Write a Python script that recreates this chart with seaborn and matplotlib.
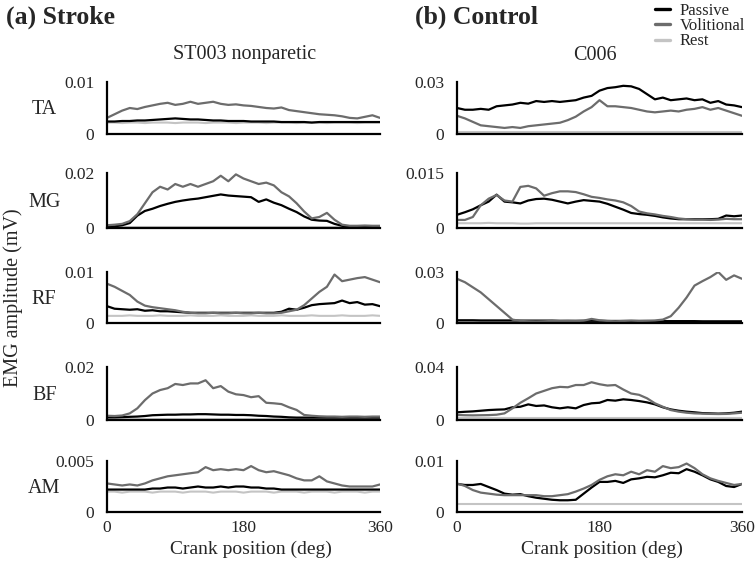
import matplotlib
matplotlib.use("Agg")
import matplotlib.pyplot as plt
import seaborn as sns
from matplotlib.lines import Line2D

# crank position grid (deg)
deg = [0, 10, 20, 30, 40, 50, 60, 70, 80, 90, 100, 110, 120, 130, 140, 150, 160, 170, 180,
       190, 200, 210, 220, 230, 240, 250, 260, 270, 280, 290, 300, 310, 320, 330, 340, 350, 360]

muscles = ["TA", "MG", "RF", "BF", "AM"]
stroke_ymax = [0.01, 0.02, 0.01, 0.02, 0.005]
stroke_ylabels = ["0.01", "0.02", "0.01", "0.02", "0.005"]
control_ymax = [0.03, 0.015, 0.03, 0.04, 0.01]
control_ylabels = ["0.03", "0.015", "0.03", "0.04", "0.01"]

# ---- (a) Stroke, ST003 nonparetic ----
st_ta_pas = [0.0024, 0.0024, 0.0025, 0.0025, 0.0026, 0.0026, 0.0027, 0.0028, 0.0029, 0.0030, 0.0029, 0.0028, 0.0028,
             0.0027, 0.0026, 0.0026, 0.0025, 0.0025, 0.0025, 0.0024, 0.0024, 0.0024, 0.0024, 0.0023, 0.0023, 0.0023,
             0.0023, 0.0022, 0.0023, 0.0023, 0.0023, 0.0023, 0.0023, 0.0023, 0.0023, 0.0023, 0.0023]
st_ta_vol = [0.0031, 0.0038, 0.0045, 0.0050, 0.0048, 0.0052, 0.0055, 0.0058, 0.0060, 0.0056, 0.0058, 0.0062, 0.0058,
             0.0060, 0.0062, 0.0058, 0.0056, 0.0057, 0.0055, 0.0054, 0.0052, 0.0050, 0.0049, 0.0051, 0.0046, 0.0044,
             0.0042, 0.0040, 0.0038, 0.0037, 0.0036, 0.0034, 0.0031, 0.0030, 0.0033, 0.0036, 0.0031]
st_ta_rest = [0.0022, 0.0022, 0.0021, 0.0022, 0.0022, 0.0021, 0.0022, 0.0022, 0.0022, 0.0021, 0.0022, 0.0022, 0.0022,
              0.0021, 0.0022, 0.0022, 0.0022, 0.0021, 0.0022, 0.0022, 0.0022, 0.0021, 0.0022, 0.0022, 0.0022, 0.0021,
              0.0022, 0.0022, 0.0022, 0.0021, 0.0022, 0.0022, 0.0022, 0.0021, 0.0022, 0.0022, 0.0022]

st_mg_pas = [0.0005, 0.0006, 0.0010, 0.0018, 0.0045, 0.0062, 0.0070, 0.0080, 0.0088, 0.0095, 0.0100, 0.0104, 0.0107,
             0.0112, 0.0117, 0.0122, 0.0118, 0.0116, 0.0114, 0.0112, 0.0095, 0.0104, 0.0092, 0.0083, 0.0070, 0.0058,
             0.0042, 0.0030, 0.0027, 0.0026, 0.0015, 0.0008, 0.0005, 0.0005, 0.0005, 0.0005, 0.0005]
st_mg_vol = [0.0010, 0.0012, 0.0015, 0.0025, 0.0050, 0.0090, 0.0130, 0.0150, 0.0140, 0.0160, 0.0150, 0.0160, 0.0150,
             0.0160, 0.0170, 0.0190, 0.0170, 0.0195, 0.0180, 0.0170, 0.0160, 0.0165, 0.0155, 0.0130, 0.0115, 0.0090,
             0.0060, 0.0035, 0.0040, 0.0055, 0.0030, 0.0012, 0.0008, 0.0008, 0.0009, 0.0008, 0.0008]
st_mg_rest = [0.0003, 0.0003, 0.0003, 0.0003, 0.0003, 0.0003, 0.0003, 0.0003, 0.0003, 0.0003, 0.0003, 0.0003, 0.0003,
              0.0003, 0.0003, 0.0003, 0.0003, 0.0003, 0.0003, 0.0003, 0.0003, 0.0003, 0.0003, 0.0003, 0.0003, 0.0003,
              0.0003, 0.0003, 0.0003, 0.0003, 0.0003, 0.0003, 0.0003, 0.0003, 0.0003, 0.0003, 0.0003]

st_rf_pas = [0.0033, 0.0028, 0.0027, 0.0026, 0.0027, 0.0024, 0.0025, 0.0023, 0.0023, 0.0022, 0.0021, 0.0020, 0.0020,
             0.0020, 0.0020, 0.0020, 0.0020, 0.0020, 0.0020, 0.0020, 0.0020, 0.0020, 0.0020, 0.0022, 0.0028, 0.0026,
             0.0030, 0.0035, 0.0037, 0.0038, 0.0039, 0.0044, 0.0039, 0.0041, 0.0036, 0.0037, 0.0033]
st_rf_vol = [0.0077, 0.0071, 0.0063, 0.0055, 0.0042, 0.0034, 0.0031, 0.0029, 0.0027, 0.0025, 0.0022, 0.0020, 0.0019,
             0.0019, 0.0020, 0.0019, 0.0019, 0.0020, 0.0019, 0.0019, 0.0020, 0.0019, 0.0019, 0.0020, 0.0023, 0.0026,
             0.0035, 0.0048, 0.0061, 0.0071, 0.0095, 0.0082, 0.0085, 0.0088, 0.0090, 0.0085, 0.0080]
st_rf_rest = [0.0014, 0.0014, 0.0014, 0.0015, 0.0014, 0.0014, 0.0014, 0.0015, 0.0014, 0.0014, 0.0014, 0.0015, 0.0014,
              0.0014, 0.0014, 0.0015, 0.0014, 0.0014, 0.0014, 0.0015, 0.0014, 0.0014, 0.0014, 0.0015, 0.0014, 0.0014,
              0.0014, 0.0015, 0.0014, 0.0014, 0.0014, 0.0015, 0.0014, 0.0014, 0.0014, 0.0015, 0.0014]

st_bf_pas = [0.0010, 0.0010, 0.0011, 0.0012, 0.0013, 0.0015, 0.0018, 0.0019, 0.0020, 0.0020, 0.0021, 0.0021, 0.0022,
             0.0022, 0.0021, 0.0020, 0.0020, 0.0019, 0.0019, 0.0018, 0.0016, 0.0015, 0.0013, 0.0012, 0.0010, 0.0009,
             0.0009, 0.0009, 0.0009, 0.0009, 0.0009, 0.0009, 0.0009, 0.0009, 0.0009, 0.0009, 0.0009]
st_bf_vol = [0.0016, 0.0015, 0.0017, 0.0025, 0.0044, 0.0075, 0.0100, 0.0113, 0.0120, 0.0136, 0.0132, 0.0138, 0.0138,
             0.0150, 0.0120, 0.0128, 0.0107, 0.0097, 0.0094, 0.0086, 0.0090, 0.0065, 0.0063, 0.0060, 0.0048, 0.0038,
             0.0019, 0.0016, 0.0014, 0.0013, 0.0013, 0.0012, 0.0013, 0.0013, 0.0012, 0.0013, 0.0013]
st_bf_rest = [0.0005, 0.0005, 0.0005, 0.0005, 0.0005, 0.0005, 0.0005, 0.0005, 0.0005, 0.0005, 0.0005, 0.0005, 0.0005,
              0.0005, 0.0005, 0.0005, 0.0005, 0.0005, 0.0005, 0.0005, 0.0005, 0.0005, 0.0005, 0.0005, 0.0005, 0.0005,
              0.0005, 0.0005, 0.0005, 0.0005, 0.0005, 0.0005, 0.0005, 0.0005, 0.0005, 0.0005, 0.0005]

st_am_pas = [0.0022, 0.0022, 0.0022, 0.0022, 0.0022, 0.0022, 0.0023, 0.0023, 0.0024, 0.0024, 0.0023, 0.0024, 0.0025,
             0.0024, 0.0024, 0.0025, 0.0024, 0.0025, 0.0025, 0.0024, 0.0024, 0.0023, 0.0023, 0.0022, 0.0022, 0.0022,
             0.0022, 0.0022, 0.0022, 0.0022, 0.0022, 0.0022, 0.0022, 0.0022, 0.0022, 0.0022, 0.0022]
st_am_vol = [0.0028, 0.0027, 0.0026, 0.0027, 0.0026, 0.0028, 0.0031, 0.0033, 0.0035, 0.0036, 0.0037, 0.0038, 0.0039,
             0.0044, 0.0041, 0.0042, 0.0041, 0.0042, 0.0041, 0.0045, 0.0041, 0.0039, 0.0040, 0.0038, 0.0036, 0.0033,
             0.0031, 0.0031, 0.0035, 0.0030, 0.0028, 0.0026, 0.0025, 0.0025, 0.0025, 0.0025, 0.0027]
st_am_rest = [0.0020, 0.0020, 0.0019, 0.0020, 0.0020, 0.0020, 0.0019, 0.0020, 0.0020, 0.0020, 0.0019, 0.0020, 0.0020,
              0.0020, 0.0019, 0.0020, 0.0020, 0.0020, 0.0019, 0.0020, 0.0020, 0.0020, 0.0019, 0.0020, 0.0020, 0.0020,
              0.0019, 0.0020, 0.0020, 0.0020, 0.0019, 0.0020, 0.0020, 0.0020, 0.0019, 0.0020, 0.0020]

# ---- (b) Control, C006 ----
c_ta_pas = [0.0150, 0.0140, 0.0140, 0.0145, 0.0140, 0.0160, 0.0165, 0.0170, 0.0180, 0.0175, 0.0190, 0.0185, 0.0190,
            0.0185, 0.0190, 0.0195, 0.0210, 0.0220, 0.0250, 0.0265, 0.0270, 0.0278, 0.0275, 0.0260, 0.0230, 0.0200,
            0.0210, 0.0195, 0.0200, 0.0205, 0.0195, 0.0200, 0.0180, 0.0190, 0.0170, 0.0165, 0.0155]
c_ta_vol = [0.0105, 0.0090, 0.0070, 0.0050, 0.0045, 0.0040, 0.0035, 0.0040, 0.0035, 0.0045, 0.0050, 0.0055, 0.0060,
            0.0065, 0.0080, 0.0100, 0.0130, 0.0155, 0.0195, 0.0160, 0.0160, 0.0155, 0.0150, 0.0140, 0.0130, 0.0125,
            0.0130, 0.0135, 0.0130, 0.0140, 0.0145, 0.0155, 0.0140, 0.0150, 0.0135, 0.0120, 0.0105]
c_ta_rest = [0.0012, 0.0012, 0.0012, 0.0012, 0.0012, 0.0012, 0.0012, 0.0012, 0.0012, 0.0012, 0.0012, 0.0012, 0.0012,
             0.0012, 0.0012, 0.0012, 0.0012, 0.0012, 0.0012, 0.0012, 0.0012, 0.0012, 0.0012, 0.0012, 0.0012, 0.0012,
             0.0012, 0.0012, 0.0012, 0.0012, 0.0012, 0.0012, 0.0012, 0.0012, 0.0012, 0.0012, 0.0012]

c_mg_pas = [0.0036, 0.0043, 0.0051, 0.0062, 0.0072, 0.0091, 0.0072, 0.0070, 0.0067, 0.0075, 0.0079, 0.0080, 0.0077,
            0.0072, 0.0067, 0.0072, 0.0076, 0.0074, 0.0072, 0.0066, 0.0058, 0.0050, 0.0041, 0.0038, 0.0036, 0.0033,
            0.0029, 0.0026, 0.0024, 0.0024, 0.0024, 0.0024, 0.0024, 0.0025, 0.0034, 0.0032, 0.0034]
c_mg_vol = [0.0022, 0.0022, 0.0030, 0.0062, 0.0080, 0.0090, 0.0075, 0.0072, 0.0112, 0.0115, 0.0108, 0.0088, 0.0095,
            0.0100, 0.0100, 0.0098, 0.0092, 0.0085, 0.0082, 0.0078, 0.0075, 0.0070, 0.0060, 0.0045, 0.0040, 0.0037,
            0.0033, 0.0030, 0.0026, 0.0024, 0.0023, 0.0023, 0.0022, 0.0023, 0.0025, 0.0024, 0.0024]
c_mg_rest = [0.0013, 0.0013, 0.0013, 0.0013, 0.0014, 0.0013, 0.0013, 0.0013, 0.0012, 0.0012, 0.0013, 0.0013, 0.0013,
             0.0013, 0.0013, 0.0013, 0.0013, 0.0013, 0.0013, 0.0013, 0.0013, 0.0013, 0.0013, 0.0013, 0.0013, 0.0013,
             0.0013, 0.0013, 0.0013, 0.0013, 0.0013, 0.0013, 0.0013, 0.0013, 0.0013, 0.0013, 0.0013]

c_rf_pas = [0.0016, 0.0016, 0.0016, 0.0015, 0.0015, 0.0015, 0.0015, 0.0015, 0.0014, 0.0014, 0.0014, 0.0014, 0.0014,
            0.0013, 0.0013, 0.0013, 0.0013, 0.0013, 0.0013, 0.0012, 0.0012, 0.0012, 0.0012, 0.0012, 0.0012, 0.0011,
            0.0011, 0.0011, 0.0011, 0.0011, 0.0011, 0.0010, 0.0010, 0.0010, 0.0010, 0.0010, 0.0010]
c_rf_vol = [0.0260, 0.0240, 0.0210, 0.0180, 0.0140, 0.0100, 0.0060, 0.0020, 0.0012, 0.0010, 0.0009, 0.0010, 0.0012,
            0.0011, 0.0012, 0.0011, 0.0014, 0.0024, 0.0016, 0.0012, 0.0010, 0.0012, 0.0014, 0.0012, 0.0013, 0.0015,
            0.0020, 0.0040, 0.0090, 0.0150, 0.0220, 0.0246, 0.0270, 0.0300, 0.0254, 0.0280, 0.0260]
c_rf_rest = [0.0005, 0.0005, 0.0005, 0.0005, 0.0005, 0.0005, 0.0005, 0.0005, 0.0005, 0.0005, 0.0005, 0.0005, 0.0005,
             0.0005, 0.0005, 0.0005, 0.0005, 0.0005, 0.0005, 0.0005, 0.0005, 0.0005, 0.0005, 0.0005, 0.0005, 0.0005,
             0.0005, 0.0005, 0.0005, 0.0005, 0.0005, 0.0005, 0.0005, 0.0005, 0.0005, 0.0005, 0.0005]

c_bf_pas = [0.0058, 0.0062, 0.0065, 0.0070, 0.0075, 0.0078, 0.0080, 0.0096, 0.0100, 0.0118, 0.0106, 0.0110, 0.0096,
            0.0088, 0.0096, 0.0088, 0.0113, 0.0126, 0.0130, 0.0151, 0.0146, 0.0156, 0.0151, 0.0143, 0.0133, 0.0118,
            0.0096, 0.0080, 0.0070, 0.0063, 0.0058, 0.0052, 0.0050, 0.0048, 0.0050, 0.0055, 0.0063]
c_bf_vol = [0.0038, 0.0036, 0.0035, 0.0036, 0.0037, 0.0040, 0.0050, 0.0088, 0.0130, 0.0164, 0.0200, 0.0220, 0.0240,
            0.0250, 0.0247, 0.0264, 0.0264, 0.0285, 0.0270, 0.0260, 0.0264, 0.0230, 0.0200, 0.0190, 0.0164, 0.0126,
            0.0100, 0.0075, 0.0063, 0.0055, 0.0050, 0.0048, 0.0046, 0.0045, 0.0046, 0.0050, 0.0055]
c_bf_rest = [0.0015, 0.0015, 0.0015, 0.0015, 0.0015, 0.0015, 0.0015, 0.0015, 0.0015, 0.0015, 0.0015, 0.0015, 0.0015,
             0.0015, 0.0015, 0.0015, 0.0015, 0.0015, 0.0015, 0.0015, 0.0015, 0.0015, 0.0015, 0.0015, 0.0015, 0.0015,
             0.0015, 0.0015, 0.0015, 0.0015, 0.0015, 0.0015, 0.0015, 0.0015, 0.0015, 0.0015, 0.0015]

c_am_pas = [0.0055, 0.0053, 0.0053, 0.0055, 0.0049, 0.0043, 0.0036, 0.0034, 0.0035, 0.0031, 0.0028, 0.0026, 0.0024,
            0.0023, 0.0023, 0.0024, 0.0036, 0.0048, 0.0059, 0.0059, 0.0061, 0.0057, 0.0064, 0.0066, 0.0069, 0.0068,
            0.0072, 0.0077, 0.0076, 0.0084, 0.0079, 0.0072, 0.0064, 0.0059, 0.0051, 0.0049, 0.0055]
c_am_vol = [0.0056, 0.0051, 0.0043, 0.0038, 0.0036, 0.0034, 0.0033, 0.0033, 0.0033, 0.0033, 0.0033, 0.0031, 0.0031,
            0.0033, 0.0035, 0.0040, 0.0046, 0.0053, 0.0063, 0.0070, 0.0074, 0.0072, 0.0079, 0.0074, 0.0082, 0.0079,
            0.0090, 0.0086, 0.0088, 0.0095, 0.0086, 0.0074, 0.0066, 0.0061, 0.0057, 0.0053, 0.0055]
c_am_rest = [0.0016, 0.0016, 0.0016, 0.0016, 0.0016, 0.0016, 0.0016, 0.0016, 0.0016, 0.0016, 0.0016, 0.0016, 0.0016,
             0.0016, 0.0016, 0.0016, 0.0016, 0.0016, 0.0016, 0.0016, 0.0016, 0.0016, 0.0016, 0.0016, 0.0016, 0.0016,
             0.0016, 0.0016, 0.0016, 0.0016, 0.0016, 0.0016, 0.0016, 0.0016, 0.0016, 0.0016, 0.0016]

stroke = [(st_ta_pas, st_ta_vol, st_ta_rest), (st_mg_pas, st_mg_vol, st_mg_rest), (st_rf_pas, st_rf_vol, st_rf_rest),
          (st_bf_pas, st_bf_vol, st_bf_rest), (st_am_pas, st_am_vol, st_am_rest)]
control = [(c_ta_pas, c_ta_vol, c_ta_rest), (c_mg_pas, c_mg_vol, c_mg_rest), (c_rf_pas, c_rf_vol, c_rf_rest),
           (c_bf_pas, c_bf_vol, c_bf_rest), (c_am_pas, c_am_vol, c_am_rest)]

for group in stroke + control:
    for s in group:
        assert len(s) == len(deg), len(s)

sns.set_style("white")
plt.rcParams['font.family'] = ['Liberation Serif', 'DejaVu Serif']

col_pas, col_vol, col_rest = "#000000", "#6c6c6c", "#c4c4c4"

fig = plt.figure(figsize=(7.55, 5.63), dpi=100)
W, H = 755.0, 563.0
rows_px = [(82, 134), (173, 228), (272, 323), (367, 420), (461, 512)]
cols_px = [(107, 380), (457, 742)]


def draw_panel(ax, traces, ymax, ylab, show_x):
    pas, vol, rest = traces
    sns.lineplot(x=deg, y=rest, ax=ax, color=col_rest, lw=1.5)
    sns.lineplot(x=deg, y=pas, ax=ax, color=col_pas, lw=1.6)
    sns.lineplot(x=deg, y=vol, ax=ax, color=col_vol, lw=1.6)
    ax.set_xlim(0, 360)
    ax.set_ylim(0, ymax)
    ax.set_yticks([0, ymax])
    ax.set_yticklabels(["0", ylab])
    ax.set_xticks([0, 180, 360])
    if show_x:
        ax.set_xticklabels(["0", "180", "360"])
    else:
        ax.set_xticklabels([])
    ax.tick_params(length=0, labelsize=12.5)
    ax.tick_params(axis="y", pad=9)
    ax.tick_params(axis="x", pad=6)
    ax.set_xlabel("")
    ax.set_ylabel("")
    for side in ["top", "right"]:
        ax.spines[side].set_visible(False)
    for side in ["left", "bottom"]:
        ax.spines[side].set_color("black")
        ax.spines[side].set_linewidth(1.6)
    ax.patch.set_alpha(0)


for ci, (data, ymaxes, ylabs) in enumerate([(stroke, stroke_ymax, stroke_ylabels),
                                             (control, control_ymax, control_ylabels)]):
    x0, x1 = cols_px[ci]
    for ri, (t, b) in enumerate(rows_px):
        ax = fig.add_axes([x0 / W, 1 - b / H, (x1 - x0) / W, (b - t) / H])
        draw_panel(ax, data[ri], ymaxes[ri], ylabs[ri], ri == 4)
        if ci == 0:
            ax.text(-0.23, 0.47, muscles[ri], transform=ax.transAxes, fontsize=14.5,
                    ha="center", va="center")

fig.text(6 / W, 1 - 17 / H, "(a) Stroke", fontsize=18.5, fontweight="bold", ha="left", va="center")
fig.text(415 / W, 1 - 17 / H, "(b) Control", fontsize=18.5, fontweight="bold", ha="left", va="center")
fig.text(245 / W, 1 - 55 / H, "ST003 nonparetic", fontsize=14.5, ha="center", va="center")
fig.text(595 / W, 1 - 55 / H, "C006", fontsize=14.5, ha="center", va="center")
fig.text(251 / W, 1 - 549 / H, "Crank position (deg)", fontsize=14, ha="center", va="center")
fig.text(602 / W, 1 - 549 / H, "Crank position (deg)", fontsize=14, ha="center", va="center")
fig.text(13 / W, 1 - 298 / H, "EMG amplitude (mV)", fontsize=14.5, rotation=90, ha="center", va="center")

handles = [Line2D([], [], color=col_pas, lw=2.4),
           Line2D([], [], color=col_vol, lw=2.4),
           Line2D([], [], color=col_rest, lw=2.4)]
fig.legend(handles, ["Passive", "Volitional", "Rest"], loc="upper right",
           bbox_to_anchor=(745 / W, 1 - 3 / H), frameon=False, fontsize=12,
           handlelength=0.95, handletextpad=0.55, labelspacing=-0.05, borderaxespad=0, borderpad=0)

fig.savefig("out.png", dpi=100)
